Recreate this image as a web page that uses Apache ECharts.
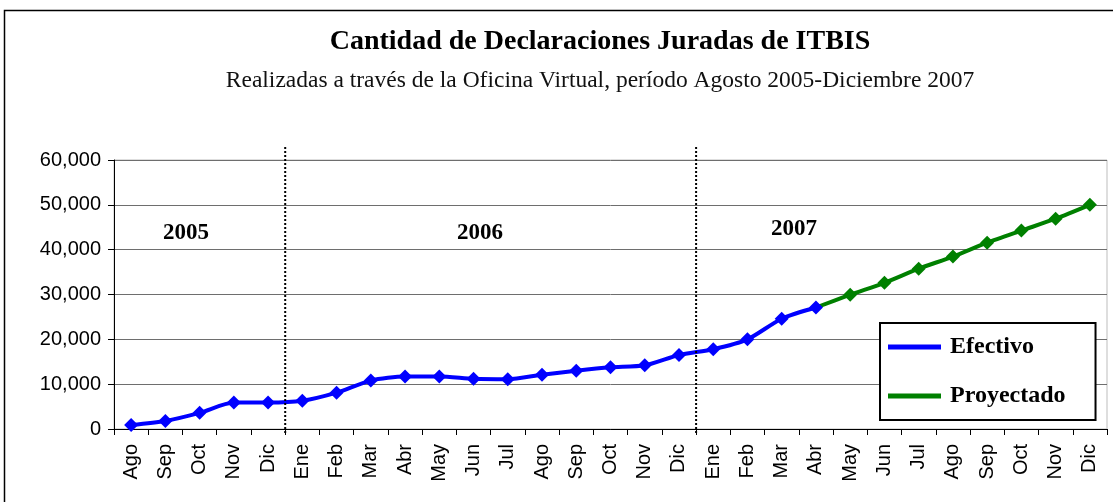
<!DOCTYPE html>
<html>
<head>
<meta charset="utf-8">
<script src="https://cdn.jsdelivr.net/npm/echarts@6/dist/echarts.min.js"></script>
<style>
html,body{margin:0;padding:0;background:#fff;}
#c{width:1113px;height:502px;}
</style>
</head>
<body>
<div id="c"></div>
<script>
// Data
const categories = ['Ago','Sep','Oct','Nov','Dic',
  'Ene','Feb','Mar','Abr','May','Jun','Jul','Ago','Sep','Oct','Nov','Dic',
  'Ene','Feb','Mar','Abr','May','Jun','Jul','Ago','Sep','Oct','Nov','Dic'];
const efectivo = [900,1800,3600,5900,5900,
  6300,8100,10800,11700,11700,11200,11100,12100,13000,13750,14200,16500,
  17800,20000,24600,27100];
const proyectado = [29950,32600,35750,38450,41550,44250,46900,50000];
const yearLabels = ['2005','2006','2007'];
const yTicks = [0,10000,20000,30000,40000,50000,60000];

const nEf = efectivo.length;
const efData = categories.map((c,i)=> i < nEf ? efectivo[i] : null);
const prData = categories.map((c,i)=>{
  if (i === nEf-1) return {value: efectivo[nEf-1], symbol:'none'};
  if (i >= nEf) return proyectado[i-nEf];
  return null;
});

const chart = echarts.init(document.getElementById('c'));
const serif = 'Liberation Serif';
const sans = 'Liberation Sans';

const option = {
  animation:false,
  backgroundColor:'#fff',
  title:[
    {text:'Cantidad de Declaraciones Juradas de ITBIS', left:595, textAlign:'center', top:23,
     textStyle:{fontFamily:serif, fontWeight:'bold', fontSize:28, color:'#000'}},
    {text:'Realizadas a través de la Oficina Virtual, período Agosto 2005-Diciembre 2007', left:595, textAlign:'center', top:64,
     textStyle:{fontFamily:serif, fontWeight:'normal', fontSize:23.5, color:'#111'}}
  ],
  grid:{left:114, right:6, top:160, bottom:73, containLabel:false,
        show:true, borderColor:'#bdbdbd', borderWidth:1},
  xAxis:{type:'category', data:categories, boundaryGap:true,
    axisLine:{lineStyle:{color:'#000', width:1}},
    axisTick:{show:true, length:6, lineStyle:{color:'#000'}},
    axisLabel:{rotate:90, fontFamily:sans, fontSize:20, color:'#000', margin:15, interval:0}
  },
  yAxis:{type:'value', min:0, max:60000, interval:10000,
    axisLine:{show:true, lineStyle:{color:'#000'}},
    axisTick:{show:true, length:6, inside:false, lineStyle:{color:'#000'}},
    axisLabel:{fontFamily:sans, fontSize:20, color:'#000', margin:13,
      formatter:v=>v.toLocaleString('en-US')},
    splitLine:{lineStyle:{color:'#6e6e6e', width:1}}
  },
  legend:{orient:'vertical', left:880, top:323,
    data:[{name:'Efectivo', icon:'rect'},{name:'Proyectado', icon:'rect'}],
    itemWidth:53, itemHeight:5, itemGap:25,
    padding:[12,30,12,8],
    borderColor:'#000', borderWidth:2, backgroundColor:'#fff',
    textStyle:{fontFamily:serif, fontWeight:'bold', fontSize:24, color:'#000', padding:[0,0,0,4]}
  },
  series:[
    {name:'Efectivo', type:'line', data:efData, smooth:0.25, connectNulls:false,
     symbol:'diamond', symbolSize:14, itemStyle:{color:'#0000ff'},
     lineStyle:{color:'#0000ff', width:4}, z:3},
    {name:'Proyectado', type:'line', data:prData, smooth:0.25,
     symbol:'diamond', symbolSize:14, itemStyle:{color:'#008000'},
     lineStyle:{color:'#008000', width:4}, z:2}
  ]
};
chart.setOption(option);

// Year separators and labels
const px = i => chart.convertToPixel({xAxisIndex:0}, i);
const b1 = (px(4)+px(5))/2;
const b2 = (px(16)+px(17))/2;
const yTop = 147, yBot = 435;
chart.setOption({
  graphic:[
    {type:'rect', shape:{x:4.5, y:10.5, width:1120, height:520}, style:{fill:'none', stroke:'#000', lineWidth:1.5}, z:-10, silent:true},
    {type:'line', shape:{x1:b1, y1:yTop, x2:b1, y2:yBot}, style:{stroke:'#000', lineWidth:2, lineDash:[2,2]}, z:50},
    {type:'line', shape:{x1:b2, y1:yTop, x2:b2, y2:yBot}, style:{stroke:'#000', lineWidth:2, lineDash:[2,2]}, z:50},
    {type:'text', x:186, y:233, style:{text:yearLabels[0], font:'bold 23px "Liberation Serif"', fill:'#000', align:'center', verticalAlign:'middle'}, z:50},
    {type:'text', x:480, y:233, style:{text:yearLabels[1], font:'bold 23px "Liberation Serif"', fill:'#000', align:'center', verticalAlign:'middle'}, z:50},
    {type:'text', x:794, y:229, style:{text:yearLabels[2], font:'bold 23px "Liberation Serif"', fill:'#000', align:'center', verticalAlign:'middle'}, z:50}
  ]
});
</script>
</body>
</html>
